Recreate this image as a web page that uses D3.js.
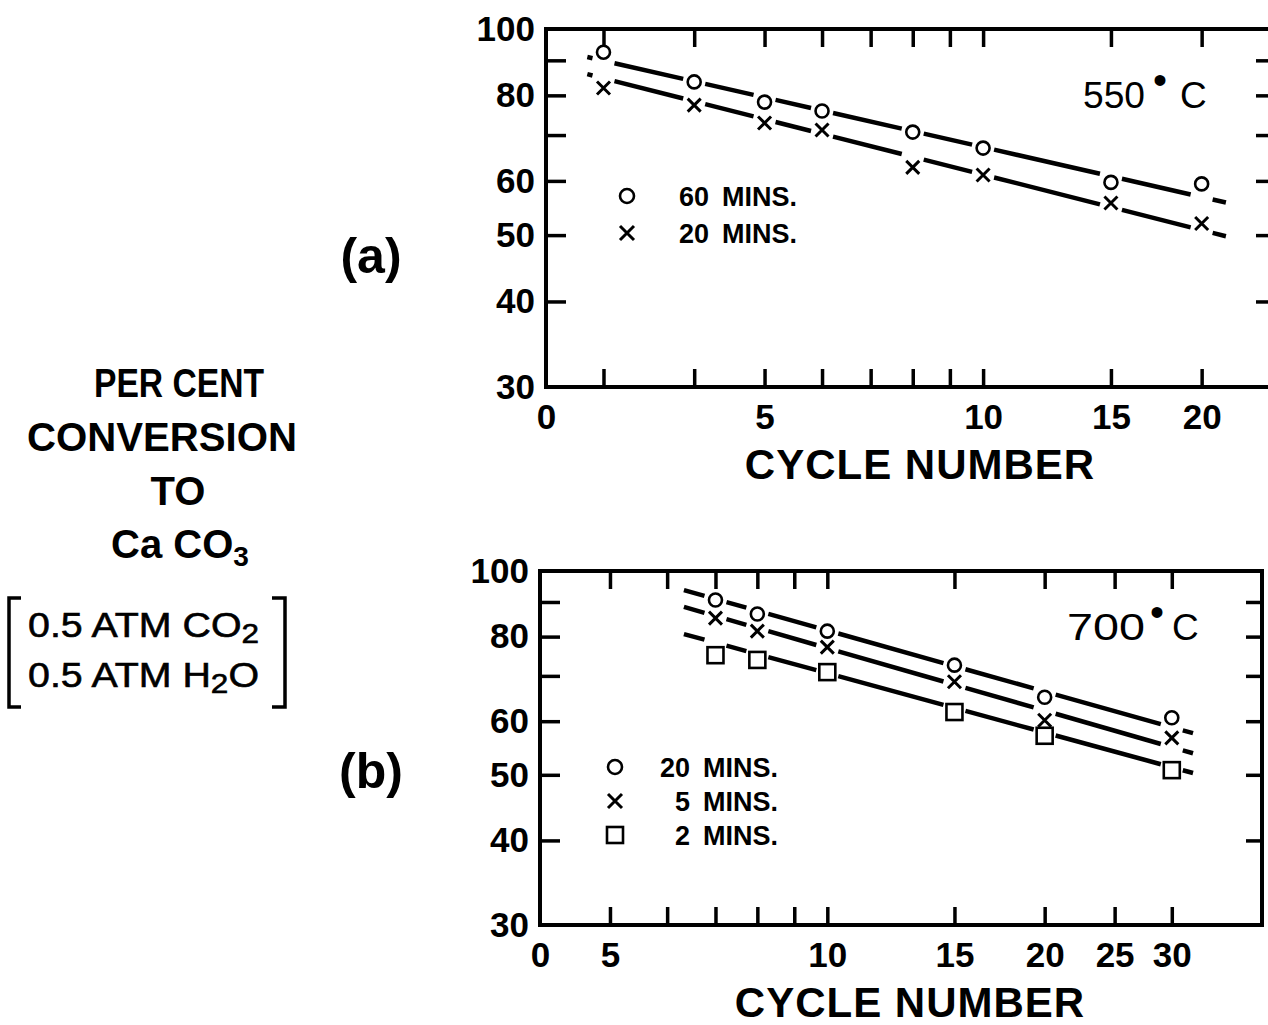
<!DOCTYPE html>
<html>
<head>
<meta charset="utf-8">
<script src="https://cdn.jsdelivr.net/npm/d3@7"></script>
<style>
  body { margin: 0; background: #fff; }
  svg { display: block; }
  .axe path.domain { display: none; }
</style>
</head>
<body>
<div id="graphe"></div>
<script>
//----------------------------------------------------------------
// values (cycle number / per cent conversion)
//----------------------------------------------------------------
var cyclesA = [3, 4, 5, 6, 8, 10, 15, 20];
var a60mins = [92.5, 83.7, 78.2, 75.9, 70.7, 67.0, 59.7, 59.4];
var a20mins = [82.0, 77.4, 72.9, 71.2, 62.8, 61.2, 55.7, 52.0];
var fitCyclesA = [2.85, 21.6];
var fitA60 = [91.0, 55.8];
var fitA20 = [85.9, 49.8];

var cyclesB = [7, 8, 10, 15, 20, 30];
var b20mins = [90.6, 86.4, 81.5, 72.6, 65.1, 60.7];
var b5mins = [85.2, 81.5, 77.2, 68.6, 60.2, 56.7];
var b2mins = [75.1, 73.9, 70.9, 61.9, 57.1, 50.8];
var fitCyclesB = [6.33, 32.1];
var fitB20 = [93.7, 57.6];
var fitB5 = [88.5, 53.8];
var fitB2 = [80.7, 50.3];

// ticks : the left end of each x axis is printed "0"
var ticksA = [3, 4, 5, 6, 7, 8, 9, 10, 15, 20];
var labelsA = [2.5, 5, 10, 15, 20];
var ticksB = [5, 6, 7, 8, 9, 10, 15, 20, 25, 30];
var labelsB = [4, 5, 10, 15, 20, 25, 30];
var yTicks = [40, 50, 60, 70, 80, 90];
var yLabels = [30, 40, 50, 60, 80, 100];

//----------------------------------------------------------------
// svg
var largeur = 1268, hauteur = 1025;
var svg = d3.select("#graphe")
  .append("svg")
  .attr("width", largeur)
  .attr("height", hauteur);

var police = "'Liberation Sans', Arial, sans-serif";

//----------------------------------------------------------------
// one marker (circle, cross or square)
//----------------------------------------------------------------
function marqueur(g, type, cx, cy, s) {
  if (type == "rond") {
    g.append("circle")
      .attr("cx", cx).attr("cy", cy).attr("r", s)
      .attr("fill", "#fff").attr("stroke", "#000").attr("stroke-width", 2.6);
  } else if (type == "croix") {
    g.append("path")
      .attr("d", "M" + (cx - s) + "," + (cy - s) + "L" + (cx + s) + "," + (cy + s) +
                 "M" + (cx - s) + "," + (cy + s) + "L" + (cx + s) + "," + (cy - s))
      .attr("stroke", "#000").attr("stroke-width", 3).attr("fill", "none");
  } else {
    g.append("rect")
      .attr("x", cx - s).attr("y", cy - s).attr("width", 2 * s).attr("height", 2 * s)
      .attr("fill", "#fff").attr("stroke", "#000").attr("stroke-width", 2.6);
  }
}

//----------------------------------------------------------------
// draws a panel
//----------------------------------------------------------------
function dessinerPanneau(p) {
  var g = svg.append("g");
  var x = d3.scaleLog().domain(p.domX).range([p.gauche, p.droite]);
  var y = d3.scaleLog().domain([30, 100]).range([p.bas, p.haut]);

  // frame
  g.append("rect")
    .attr("x", p.gauche).attr("y", p.haut)
    .attr("width", p.droite - p.gauche).attr("height", p.bas - p.haut)
    .attr("fill", "none").attr("stroke", "#000").attr("stroke-width", 4);

  // tick marks on the four sides
  g.append("g").attr("class", "axe").attr("transform", "translate(0," + p.bas + ")")
    .call(d3.axisBottom(x).tickValues(p.ticks).tickSize(-18).tickFormat(""));
  g.append("g").attr("class", "axe").attr("transform", "translate(0," + p.haut + ")")
    .call(d3.axisTop(x).tickValues(p.ticks).tickSize(-18).tickFormat(""));
  g.append("g").attr("class", "axe").attr("transform", "translate(" + p.gauche + ",0)")
    .call(d3.axisLeft(y).tickValues(yTicks).tickSize(-20).tickFormat(""));
  g.append("g").attr("class", "axe").attr("transform", "translate(" + p.droite + ",0)")
    .call(d3.axisRight(y).tickValues(yTicks).tickSize(-16).tickFormat(""));
  g.selectAll(".axe line").attr("stroke", "#000").attr("stroke-width", 3.5);

  // tick labels
  g.append("g").attr("class", "axe").attr("transform", "translate(0," + p.bas + ")")
    .call(d3.axisBottom(x).tickValues(p.labels).tickSize(0).tickPadding(17)
      .tickFormat(function(d){ return d == p.domX[0] ? "0" : d; }));
  g.append("g").attr("class", "axe").attr("transform", "translate(" + p.gauche + ",0)")
    .call(d3.axisLeft(y).tickValues(yLabels).tickSize(0).tickPadding(11)
      .tickFormat(function(d){ return d; }));
  g.selectAll(".axe text")
    .attr("font-family", police).attr("font-size", 35).attr("font-weight", "bold")
    .attr("fill", "#000");

  // x title
  g.append("text")
    .attr("x", p.titreX).attr("y", p.bas + 92)
    .attr("text-anchor", "middle")
    .attr("font-family", police).attr("font-size", 42).attr("font-weight", "bold")
    .attr("letter-spacing", 1)
    .text("CYCLE NUMBER");

  // temperature, degree drawn as a raised dot
  var t = g.append("text")
    .attr("y", p.tempY)
    .attr("font-family", police).attr("font-size", 37);
  t.append("tspan").attr("x", p.tempX[0]).attr("textLength", p.tempLong)
    .attr("lengthAdjust", "spacingAndGlyphs").text(p.temp);
  t.append("tspan").attr("x", p.tempX[1]).attr("dy", -14).attr("font-size", 40).text("\u2022");
  t.append("tspan").attr("x", p.tempX[2]).attr("dy", 14).text("C");

  // fitted lines, broken around the markers
  var trait = 11;
  p.series.forEach(function(s) {
    var x0 = x(s.fitX[0]), y0 = y(s.fitY[0]);
    var x1 = x(s.fitX[1]), y1 = y(s.fitY[1]);
    var yDe = function(px){ return y0 + (y1 - y0) * (px - x0) / (x1 - x0); };
    var coupures = s.cycles.map(function(c){ return x(c); });
    var debut = x0;
    coupures.concat([x1 + trait]).forEach(function(cx) {
      var fin = cx - trait;
      if (fin > debut) {
        g.append("line")
          .attr("x1", debut).attr("y1", yDe(debut))
          .attr("x2", fin).attr("y2", yDe(fin))
          .attr("stroke", "#000").attr("stroke-width", 4.5);
      }
      debut = cx + trait;
    });
    s.cycles.forEach(function(c, i) {
      marqueur(g, s.type, x(c), y(s.valeurs[i]), s.type == "carre" ? 8 : 6.5);
    });
  });

  // legend
  p.legende.forEach(function(l, i) {
    var ly = p.legY + i * p.legPas;
    marqueur(g, l.type, p.legX, ly, l.type == "carre" ? 8 : 7);
    g.append("text")
      .attr("x", p.legNum).attr("y", ly).attr("dy", "0.36em")
      .attr("text-anchor", "end")
      .attr("font-family", police).attr("font-size", 27).attr("font-weight", "bold")
      .text(l.num);
    g.append("text")
      .attr("x", p.legNum + 13).attr("y", ly).attr("dy", "0.36em")
      .attr("font-family", police).attr("font-size", 27).attr("font-weight", "bold")
      .text("MINS.");
  });

  // panel letter
  svg.append("text")
    .attr("x", 371).attr("y", p.lettreY).attr("dy", "0.36em")
    .attr("text-anchor", "middle")
    .attr("font-family", police).attr("font-size", 50).attr("font-weight", "bold")
    .text(p.lettre);
}

//----------------------------------------------------------------
// panel (a) 550 C
dessinerPanneau({
  gauche: 546, droite: 1272, haut: 29, bas: 387,
  domX: [2.5, 25], ticks: ticksA, labels: labelsA,
  titreX: 920,
  temp: "550", tempX: [1083, 1153, 1180], tempLong: 62, tempY: 108,
  series: [
    { cycles: cyclesA, valeurs: a60mins, fitX: fitCyclesA, fitY: fitA60, type: "rond" },
    { cycles: cyclesA, valeurs: a20mins, fitX: fitCyclesA, fitY: fitA20, type: "croix" }
  ],
  legende: [{ type: "rond", num: "60" }, { type: "croix", num: "20" }],
  legX: 627, legY: 196, legPas: 37, legNum: 709,
  lettre: "(a)", lettreY: 255
});

// panel (b) 700 C
dessinerPanneau({
  gauche: 540, droite: 1262, haut: 571, bas: 925,
  domX: [4, 40], ticks: ticksB, labels: labelsB,
  titreX: 910,
  temp: "700", tempX: [1067, 1150, 1172], tempLong: 78, tempY: 640,
  series: [
    { cycles: cyclesB, valeurs: b20mins, fitX: fitCyclesB, fitY: fitB20, type: "rond" },
    { cycles: cyclesB, valeurs: b5mins, fitX: fitCyclesB, fitY: fitB5, type: "croix" },
    { cycles: cyclesB, valeurs: b2mins, fitX: fitCyclesB, fitY: fitB2, type: "carre" }
  ],
  legende: [{ type: "rond", num: "20" }, { type: "croix", num: "5" }, { type: "carre", num: "2" }],
  legX: 615, legY: 767, legPas: 34, legNum: 690,
  lettre: "(b)", lettreY: 770
});

//----------------------------------------------------------------
// y axis title on the left
//----------------------------------------------------------------
var titre = svg.append("g")
  .attr("font-family", police).attr("font-weight", "bold").attr("font-size", 40)
  .attr("text-anchor", "middle");
titre.append("text").attr("x", 179).attr("y", 397).attr("textLength", 170).attr("lengthAdjust", "spacingAndGlyphs").text("PER CENT");
titre.append("text").attr("x", 162).attr("y", 451).attr("textLength", 270).attr("lengthAdjust", "spacingAndGlyphs").text("CONVERSION");
titre.append("text").attr("x", 178).attr("y", 505).text("TO");
var caco = titre.append("text").attr("x", 180).attr("y", 558);
caco.append("tspan").text("Ca CO");
caco.append("tspan").attr("dy", 8).attr("font-size", 28).text("3");

var cond = svg.append("g")
  .attr("font-family", police).attr("font-size", 35)
  .attr("stroke", "#000").attr("stroke-width", 0.6);
var l1 = cond.append("text").attr("x", 28).attr("y", 637)
  .attr("textLength", 231).attr("lengthAdjust", "spacingAndGlyphs");
l1.append("tspan").text("0.5 ATM CO");
l1.append("tspan").attr("dy", 6).attr("font-size", 28).text("2");
var l2 = cond.append("text").attr("x", 28).attr("y", 687)
  .attr("textLength", 231).attr("lengthAdjust", "spacingAndGlyphs");
l2.append("tspan").text("0.5 ATM H");
l2.append("tspan").attr("dy", 6).attr("font-size", 28).text("2");
l2.append("tspan").attr("dy", -6).text("O");

svg.append("path")
  .attr("d", "M21,598H9V707H21M272,598H285V707H272")
  .attr("fill", "none").attr("stroke", "#000").attr("stroke-width", 3.5);
</script>
</body>
</html>
